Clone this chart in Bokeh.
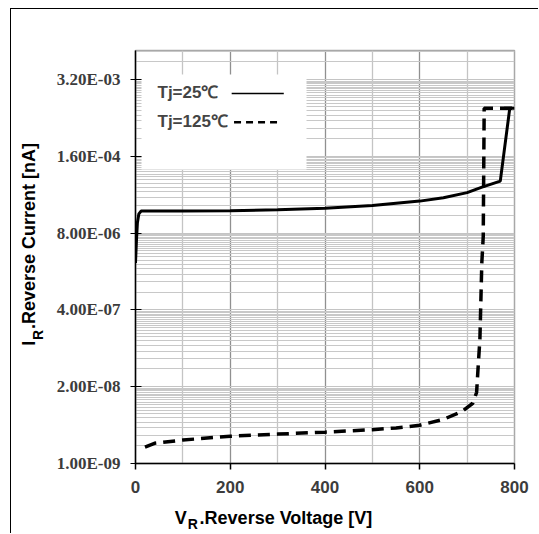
import math
from bokeh.plotting import figure
from bokeh.models import (FixedTicker, CustomJSTickFormatter, Label, BoxAnnotation, Range1d,
                          LinearAxis)
from bokeh.embed import file_html
from bokeh.resources import INLINE

# ---- data ----
X_TICKS = [0, 200, 400, 600, 800]
X_MINOR = [100, 300, 500, 700]
Y_TICKS = [1e-9, 2e-8, 4e-7, 8e-6, 1.6e-4, 3.2e-3]
Y_MULT = list(range(2, 20))

v25 = [0, 2, 4, 7, 12, 50, 100, 200, 300, 400, 500, 600, 650, 700, 730, 770, 790, 800]
i25 = [2.5e-6, 6e-6, 1.2e-5, 1.7e-5, 1.9e-5, 1.9e-5, 1.9e-5, 1.92e-5, 2.0e-5, 2.12e-5,
       2.35e-5, 2.8e-5, 3.2e-5, 3.9e-5, 4.8e-5, 6.1e-5, 1.05e-3, 1.05e-3]
cap25_v = [778, 790]
cap25_i = [1.05e-3, 1.05e-3]

v125 = [20, 40, 100, 200, 300, 400, 500, 550, 600, 650, 690, 712, 720, 723, 727, 731, 734, 736, 800]
i125 = [1.9e-9, 2.2e-9, 2.5e-9, 2.9e-9, 3.15e-9, 3.4e-9, 3.75e-9, 4.0e-9, 4.45e-9, 5.6e-9,
        7.7e-9, 1.05e-8, 1.6e-8, 4e-8, 1.3e-7, 2.5e-6, 7e-6, 1.05e-3, 1.05e-3]

LEGEND_LABELS = ["Tj=25℃", "Tj=125℃"]
X_TITLE = ["V", "R", ".Reverse Voltage [V]"]
Y_TITLE = ["I", "R", ".Reverse Current [nA]"]

Y_MIN, Y_MAX = 1e-9, 1e-2
Y_MINOR = [m * k for m in Y_TICKS for k in Y_MULT if m * k <= Y_MAX]

p = figure(width=528, height=525, x_range=Range1d(0, 800), y_range=Range1d(Y_MIN, Y_MAX),
           y_axis_type="log", output_backend="svg", toolbar_location=None, title=None,
           min_border_left=124, min_border_right=25, min_border_top=41, min_border_bottom=70)
p.margin = (8, 0, 0, 10)
p.styles = {"border-left": "1px solid black", "border-top": "1px solid black"}
p.background_fill_color = "white"
p.border_fill_color = "white"
p.outline_line_color = "#a8a8a8"
p.outline_line_width = 1.5

# x axis
p.xaxis.ticker = FixedTicker(ticks=X_TICKS, minor_ticks=X_MINOR)
p.xaxis.minor_tick_line_color = None
p.xaxis.major_tick_out = 6
p.xaxis.major_tick_in = 0
p.xaxis.axis_line_width = 1.5
p.xaxis.major_tick_line_width = 1.5
p.xaxis.major_label_text_font = "Liberation Sans"
p.xaxis.major_label_text_font_style = "bold"
p.xaxis.major_label_text_font_size = "17px"
p.xaxis.major_label_text_color = "#3c3c3c"
p.xaxis.major_label_standoff = 11
p.xgrid.grid_line_color = "#909090"
p.xgrid.grid_line_width = 1.3
p.xgrid.minor_grid_line_color = "#c4c4c4"
p.xgrid.minor_grid_line_width = 1.3

# y axis
p.yaxis.ticker = FixedTicker(ticks=Y_TICKS, minor_ticks=Y_MINOR)
p.yaxis.minor_tick_line_color = None
p.yaxis.major_tick_out = 5
p.yaxis.major_tick_in = 6
p.yaxis.axis_line_width = 1.5
p.yaxis.major_tick_line_width = 1.2
p.yaxis.major_label_text_font = "Liberation Serif"
p.yaxis.major_label_text_font_style = "bold"
p.yaxis.major_label_text_font_size = "17px"
p.yaxis.major_label_text_color = "#3c3c3c"
p.yaxis.major_label_standoff = 10
p.yaxis.formatter = CustomJSTickFormatter(code="""
const s = tick.toExponential(2).toUpperCase();
const parts = s.split("E");
const e = parts[1];
const sign = e[0] == "-" ? "-" : "+";
const d = e.replace("-", "").replace("+", "").padStart(2, "0");
return parts[0] + "E" + sign + d;
""")
p.ygrid.grid_line_color = "#c4c4c4"
p.ygrid.minor_grid_line_color = "#c8c8c8"

# legend background box (covers grid)
box = BoxAnnotation(left=6, right=171, top=389, bottom=294,
                    left_units="screen", right_units="screen", top_units="screen", bottom_units="screen",
                    fill_color="white", fill_alpha=1.0, line_color=None, level="underlay")
p.add_layout(box)

# curves
p.line(v25, i25, line_color="black", line_width=3)
p.line(cap25_v, cap25_i, line_color="black", line_width=3)
p.line(v125, i125, line_color="black", line_width=3.5, line_dash="12 7")

# legend
lab_font = "Liberation Sans"
p.add_layout(Label(x=22, y=371, x_units="screen", y_units="screen", text=LEGEND_LABELS[0],
                   text_font=lab_font, text_font_style="bold", text_font_size="17px",
                   text_baseline="middle", text_align="left"))
p.add_layout(Label(x=22, y=342, x_units="screen", y_units="screen", text=LEGEND_LABELS[1],
                   text_font=lab_font, text_font_style="bold", text_font_size="17px",
                   text_baseline="middle", text_align="left"))
p.line([203, 313], [1.876e-3, 1.876e-3], line_color="black", line_width=1.5)
p.line([208, 300], [6.07e-4, 6.07e-4], line_color="black", line_width=2.5, line_dash="7 5")


# axis titles with subscripts: built from extra, tick-less axes whose labels are the text pieces
def title_axis(pos, labels, size, standoff, orient="horizontal"):
    ax = LinearAxis(ticker=FixedTicker(ticks=pos, minor_ticks=[]),
                    formatter=CustomJSTickFormatter(args=dict(labels=labels), code="return labels[index];"),
                    axis_line_color=None, major_tick_line_color=None, minor_tick_line_color=None,
                    major_tick_in=0, major_tick_out=0, minor_tick_in=0, minor_tick_out=0,
                    major_label_standoff=standoff, major_label_orientation=orient,
                    major_label_text_font=lab_font, major_label_text_font_style="bold",
                    major_label_text_font_size=size, major_label_text_color="black")
    return ax

# x title pieces (centres in data units along the x axis)
XT_POS = [95.6, 317.6]
XR_POS = [121.0]
p.add_layout(title_axis(XT_POS, [X_TITLE[0], X_TITLE[2]], "18px", 12), "below")
p.add_layout(title_axis(XR_POS, [X_TITLE[1]], "14px", -15), "below")

# y title pieces (centres in data units along the y axis)
YR_POS = [1.517e-7]
YT_POS = [1.09e-7, 7.165e-6]
p.add_layout(title_axis(YR_POS, [Y_TITLE[1]], "14px", 7, "parallel"), "left")
p.add_layout(title_axis(YT_POS, [Y_TITLE[0], Y_TITLE[2]], "18px", -12, "parallel"), "left")

open("out.html", "w").write(file_html(p, INLINE))
